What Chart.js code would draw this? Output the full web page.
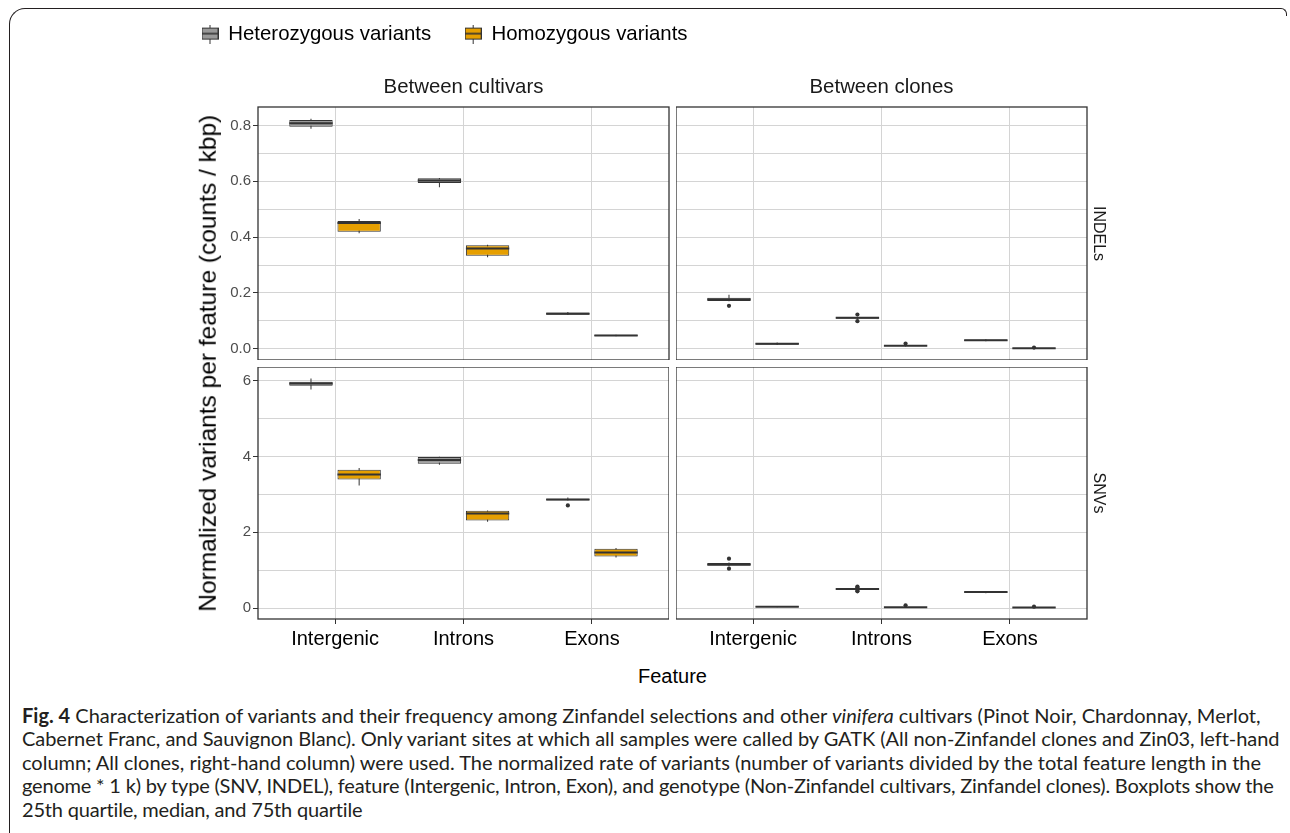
<!DOCTYPE html>
<html>
<head>
<meta charset="utf-8">
<script src="https://cdn.jsdelivr.net/npm/chart.js@4.4.1/dist/chart.umd.min.js"></script>
<style>
html,body{margin:0;padding:0;background:#fff;}
body{width:1290px;height:833px;position:relative;overflow:hidden;font-family:'Liberation Sans',Arial,sans-serif;}
canvas{position:absolute;}
.frame{position:absolute;left:9px;top:8px;width:1268px;height:900px;border-top:1.5px solid #231f20;border-left:1.5px solid #231f20;border-top-left-radius:16px;box-sizing:border-box;}
.corner{position:absolute;left:1276px;top:8px;width:11px;height:8px;border-top:1.5px solid #231f20;border-right:1.5px solid #231f20;border-top-right-radius:6px;box-sizing:border-box;}
.ytitle{position:absolute;left:-92px;top:350.75px;width:600px;height:24.5px;line-height:24.5px;font-size:24.5px;text-align:center;transform:rotate(-90deg);transform-origin:50% 50%;color:#000;white-space:nowrap;}
.xtitle{position:absolute;left:572.5px;top:666px;width:200px;height:20px;line-height:20px;font-size:20px;text-align:center;color:#000;}
#caption{position:absolute;left:22px;top:700px;font-family:Lato,'Open Sans',sans-serif;font-size:18px;line-height:23.4px;color:#231f20;}
#caption div{white-space:nowrap;}
#caption .l{display:inline-block;}
</style>
</head>
<body>
<div class="frame"></div>
<div class="corner"></div>
<canvas id="cTL" width="581" height="370" style="left:168px;top:-10px"></canvas>
<canvas id="cTR" width="434" height="306" style="left:676px;top:54px"></canvas>
<canvas id="cBL" width="501" height="292" style="left:168px;top:367px"></canvas>
<canvas id="cBR" width="434" height="292" style="left:676px;top:367px"></canvas>
<div class="ytitle">Normalized variants per feature (counts / kbp)</div>
<div class="xtitle">Feature</div>
<div id="caption">
<div class="cl"><span class="l"><b>Fig. 4</b> Characterization of variants and their frequency among Zinfandel selections and other <i>vinifera</i> cultivars (Pinot Noir, Chardonnay, Merlot,<span id="bl" style="display:inline-block;width:0;height:0;vertical-align:baseline"></span></span></div>
<div class="cl"><span class="l">Cabernet Franc, and Sauvignon Blanc). Only variant sites at which all samples were called by GATK (All non-Zinfandel clones and Zin03, left-hand</span></div>
<div class="cl"><span class="l">column; All clones, right-hand column) were used. The normalized rate of variants (number of variants divided by the total feature length in the</span></div>
<div class="cl"><span class="l">genome * 1 k) by type (SNV, INDEL), feature (Intergenic, Intron, Exon), and genotype (Non-Zinfandel cultivars, Zinfandel clones). Boxplots show the</span></div>
<div class="cl"><span class="l">25th quartile, median, and 75th quartile</span></div>
</div>
<script>
// ---------------- data ----------------
const categories = ['Intergenic', 'Introns', 'Exons'];
const seriesNames = ['Heterozygous variants', 'Homozygous variants'];
const columnLabels = ['Between cultivars', 'Between clones'];
const rowLabels = ['INDELs', 'SNVs'];

const indelTicks = [0, 0.2, 0.4, 0.6, 0.8];
const indelTickLabels = ['0.0', '0.2', '0.4', '0.6', '0.8'];
const indelMinorTicks = [0.1, 0.3, 0.5, 0.7];
const snvTicks = [0, 2, 4, 6];
const snvTickLabels = ['0', '2', '4', '6'];
const snvMinorTicks = [1, 3, 5];
const indelRange = [-0.04, 0.866];
const snvRange = [-0.29, 6.36];

// each entry: [min, q1, median, q3, max] for Intergenic, Introns, Exons
const indelCultivarsHet = [[0.788, 0.795, 0.808, 0.819, 0.824], [0.579, 0.594, 0.603, 0.611, 0.612], [0.121, 0.122, 0.126, 0.130, 0.132]];
const indelCultivarsHom = [[0.414, 0.419, 0.451, 0.458, 0.465], [0.328, 0.333, 0.359, 0.371, 0.373], [0.045, 0.046, 0.048, 0.050, 0.050]];
const indelClonesHet = [[0.170, 0.171, 0.177, 0.183, 0.194], [0.107, 0.108, 0.111, 0.114, 0.115], [0.027, 0.028, 0.031, 0.033, 0.034]];
const indelClonesHom = [[0.014, 0.015, 0.018, 0.021, 0.023], [0.008, 0.009, 0.011, 0.013, 0.014], [0.001, 0.0015, 0.0025, 0.003, 0.0035]];
const snvCultivarsHet = [[5.769, 5.865, 5.927, 5.971, 6.059], [3.781, 3.807, 3.904, 3.983, 3.990], [2.840, 2.840, 2.862, 2.884, 2.919]];
const snvCultivarsHom = [[3.236, 3.394, 3.526, 3.649, 3.694], [2.277, 2.312, 2.497, 2.567, 2.575], [1.336, 1.362, 1.468, 1.565, 1.583]];
const snvClonesHet = [[1.100, 1.116, 1.150, 1.187, 1.200], [0.470, 0.476, 0.500, 0.525, 0.530], [0.390, 0.400, 0.420, 0.435, 0.445]];
const snvClonesHom = [[0.020, 0.025, 0.035, 0.045, 0.050], [0.008, 0.012, 0.020, 0.028, 0.032], [0.005, 0.008, 0.014, 0.020, 0.024]];

// outliers per category
const noOutliers = [[], [], []];
const indelClonesHetOut = [[0.154], [0.123, 0.099], []];
const indelClonesHomOut = [[], [0.019], [0.0045]];
const snvCultivarsHetOut = [[], [], [2.708]];
const snvClonesHetOut = [[1.301, 1.037], [0.565, 0.545, 0.455, 0.440], []];
const snvClonesHomOut = [[], [0.070], [0.034]];

// ---------------- styles ----------------
const LINE = '#333333';
const GRID = '#d4d4d4';
const FILLS = ['#999999', '#E69F00'];
Chart.defaults.font.family = "'Liberation Sans', Arial, Helvetica, sans-serif";
Chart.defaults.color = '#000';

function makeIcon(fill) {
  const c = document.createElement('canvas');
  c.width = 17; c.height = 19;
  const g = c.getContext('2d');
  g.strokeStyle = LINE; g.lineWidth = 1;
  g.beginPath(); g.moveTo(8.5, 0); g.lineTo(8.5, 19); g.stroke();
  g.fillStyle = fill; g.fillRect(0.5, 3.5, 16, 11); g.strokeRect(0.5, 3.5, 16, 11);
  g.lineWidth = 1.6; g.beginPath(); g.moveTo(0.5, 9); g.lineTo(16.5, 9); g.stroke();
  return c;
}
const icons = FILLS.map(makeIcon);

const boxPlugin = {
  id: 'boxExtras',
  afterDatasetsDraw(chart) {
    const ctx = chart.ctx;
    chart.data.datasets.forEach((ds, di) => {
      if (!ds.boxStats) return;
      const meta = chart.getDatasetMeta(di);
      const ys = chart.scales[meta.yAxisID];
      meta.data.forEach((el, i) => {
        const p = el.getProps(['x', 'width'], true);
        const ym = ys.getPixelForValue(ds.boxStats[i][2]);
        ctx.save();
        ctx.strokeStyle = LINE; ctx.lineWidth = 2;
        ctx.beginPath(); ctx.moveTo(p.x - p.width / 2, ym); ctx.lineTo(p.x + p.width / 2, ym); ctx.stroke();
        ctx.fillStyle = LINE;
        ds.boxOutliers[i].forEach(v => {
          ctx.beginPath(); ctx.arc(p.x, ys.getPixelForValue(v), 2.1, 0, Math.PI * 2); ctx.fill();
        });
        ctx.restore();
      });
    });
    const a = chart.chartArea;
    ctx.save();
    ctx.strokeStyle = LINE; ctx.lineWidth = 1.3;
    ctx.strokeRect(a.left, a.top, a.right - a.left, a.bottom - a.top);
    ctx.restore();
  }
};

function panelDatasets(het, hom, hetOut, homOut) {
  const mk = (stats, outs, color, stack, name) => [
    { label: name, data: stats.map((s, i) => ({ x: i, y: [s[1], s[3]] })), backgroundColor: color,
      borderColor: LINE, borderWidth: 1, borderSkipped: false, stack: stack, order: 0,
      boxStats: stats, boxOutliers: outs },
    { label: name + ' whisker', data: stats.map((s, i) => ({ x: i, y: [s[0], s[4]] })), backgroundColor: LINE,
      borderWidth: 0, maxBarThickness: 1, stack: stack, order: 1 }
  ];
  return mk(het, hetOut, FILLS[0], 'het', seriesNames[0]).concat(mk(hom, homOut, FILLS[1], 'hom', seriesNames[1]));
}

function yScale(range, majors, labels, minors, showLabels) {
  const all = majors.concat(minors).sort((a, b) => a - b);
  return {
    type: 'linear', position: 'left', min: range[0], max: range[1], stacked: false,
    afterBuildTicks: s => { s.ticks = all.map(v => ({ value: v })); },
    afterFit: s => { s.width = showLabels ? 90 : 0; s.paddingTop = 0; s.paddingBottom = 0; },
    grid: { color: GRID, lineWidth: 1, drawTicks: showLabels, tickLength: 5,
      tickColor: c => (c.tick && majors.includes(c.tick.value)) ? LINE : 'rgba(0,0,0,0)' },
    border: { display: false },
    ticks: { display: showLabels, padding: 2, color: '#4d4d4d', font: { size: 15 }, autoSkip: false,
      callback: v => { const k = majors.indexOf(v); return k >= 0 ? labels[k] : ''; } }
  };
}

function xScale(showLabels) {
  return {
    type: 'linear', position: 'bottom', min: -0.6, max: 2.6, offset: false,
    afterBuildTicks: s => { s.ticks = categories.map((c, i) => ({ value: i })); },
    afterFit: s => { s.height = showLabels ? 40 : 0; s.paddingLeft = 0; s.paddingRight = 0; },
    grid: { color: GRID, lineWidth: 1, offset: false, drawTicks: showLabels, tickLength: 5, tickColor: LINE },
    border: { display: false },
    ticks: { display: showLabels, padding: 3, color: '#000', font: { size: 20 }, autoSkip: false, maxRotation: 0,
      callback: v => categories[v] }
  };
}

function makeChart(id, datasets, scales, plugins) {
  return new Chart(document.getElementById(id), {
    type: 'bar',
    data: { datasets },
    options: {
      responsive: false, animation: false, devicePixelRatio: 1,
      layout: { padding: 0 },
      datasets: { bar: { categoryPercentage: 0.75, barPercentage: 0.9, grouped: true } },
      scales,
      plugins: Object.assign({ legend: { display: false }, tooltip: { enabled: false }, title: { display: false }, subtitle: { display: false } }, plugins)
    },
    plugins: [boxPlugin]
  });
}

const topTitle = (text, padTop) => ({ display: true, text, position: 'top', fullSize: false, color: '#1a1a1a',
  font: { size: 20.4, lineHeight: '20px', weight: 'normal' }, padding: { top: padTop, bottom: 9.5 } });
const rightStrip = text => ({ display: true, text, position: 'right', fullSize: false, color: '#1a1a1a',
  font: { size: 16, lineHeight: '16px', weight: 'normal' }, padding: { top: 4, bottom: 3 } });

// top-left: INDELs, between cultivars (with legend)
makeChart('cTL', panelDatasets(indelCultivarsHet, indelCultivarsHom, noOutliers, noOutliers),
  { x: xScale(false), y: yScale(indelRange, indelTicks, indelTickLabels, indelMinorTicks, true),
    pad: { type: 'linear', position: 'right', display: true, grid: { display: false }, border: { display: false },
      ticks: { display: false }, afterFit: s => { s.width = 80; s.paddingTop = 0; s.paddingBottom = 0; } } },
  { legend: { display: true, position: 'top', align: 'start', fullSize: true, weight: 3000, onClick: () => {},
      labels: { usePointStyle: true, pointStyleWidth: 16.2, padding: 33.9, color: '#000', font: { size: 20.4 },
        generateLabels: () => seriesNames.map((n, i) => ({ text: n, pointStyle: icons[i], fillStyle: FILLS[i],
          strokeStyle: LINE, lineWidth: 0, hidden: false, datasetIndex: i * 2, fontColor: '#000' })) } },
    title: topTitle(columnLabels[0], 23.2) });

// top-right: INDELs, between clones
makeChart('cTR', panelDatasets(indelClonesHet, indelClonesHom, indelClonesHetOut, indelClonesHomOut),
  { x: xScale(false), y: yScale(indelRange, indelTicks, indelTickLabels, indelMinorTicks, false) },
  { title: topTitle(columnLabels[1], 23.5), subtitle: rightStrip(rowLabels[0]) });

// bottom-left: SNVs, between cultivars
makeChart('cBL', panelDatasets(snvCultivarsHet, snvCultivarsHom, snvCultivarsHetOut, noOutliers),
  { x: xScale(true), y: yScale(snvRange, snvTicks, snvTickLabels, snvMinorTicks, true) }, {});

// bottom-right: SNVs, between clones
makeChart('cBR', panelDatasets(snvClonesHet, snvClonesHom, snvClonesHetOut, snvClonesHomOut),
  { x: xScale(true), y: yScale(snvRange, snvTicks, snvTickLabels, snvMinorTicks, false) },
  { subtitle: rightStrip(rowLabels[1]) });

// caption fitting: line widths as measured on the reference figure
const captionLineWidths = [1240, 1257, 1239, 1252, 341];
function fitCaption() {
  const cap = document.getElementById('caption');
  const lines = Array.from(cap.querySelectorAll('.cl'));
  const spans = lines.map(d => d.querySelector('.l'));
  lines.forEach(d => { d.style.letterSpacing = '0px'; });
  cap.style.fontSize = '18px';
  const w0 = spans[0].getBoundingClientRect().width;
  const fs = 18 * captionLineWidths[0] / w0;
  cap.style.fontSize = fs.toFixed(3) + 'px';
  spans.forEach((s, i) => {
    if (i === 0) return;
    const w = s.getBoundingClientRect().width;
    const n = s.textContent.length;
    lines[i].style.letterSpacing = ((captionLineWidths[i] - w) / n).toFixed(4) + 'px';
  });
  cap.style.top = '700px';
  const b = document.getElementById('bl').getBoundingClientRect().top;
  cap.style.top = (700 + (723 - b)).toFixed(2) + 'px';
}
fitCaption();
if (document.fonts && document.fonts.ready) { document.fonts.ready.then(fitCaption); }
</script>
</body>
</html>
